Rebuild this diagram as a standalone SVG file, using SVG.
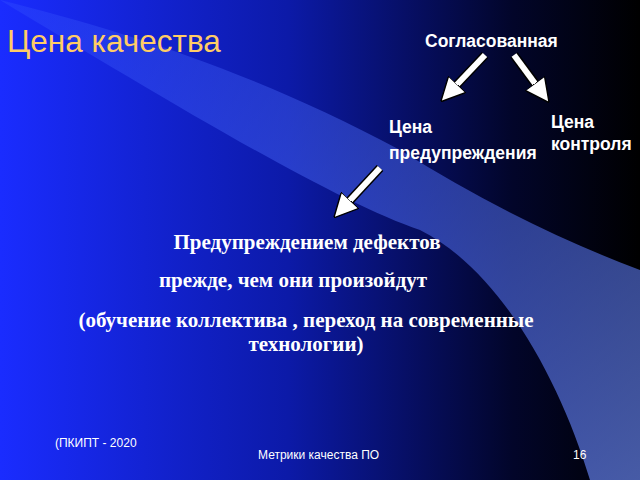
<svg xmlns="http://www.w3.org/2000/svg" width="640" height="480" viewBox="0 0 640 480">
<defs>
<linearGradient id="bg" x1="0" y1="0" x2="1" y2="0">
<stop offset="0" stop-color="#1a2cff"/><stop offset="0.45" stop-color="#0c1aa8"/><stop offset="0.8" stop-color="#02052a"/><stop offset="1" stop-color="#000"/>
</linearGradient>
<linearGradient id="sw" x1="0" y1="0" x2="1" y2="1">
<stop offset="0" stop-color="#3a5cff" stop-opacity="0.4"/><stop offset="1" stop-color="#6d8cff"/>
</linearGradient>
<marker id="ah" viewBox="0 0 10 10" refX="5" refY="5" markerWidth="4" markerHeight="4" orient="auto"><path d="M0,0 L10,5 L0,10 Z" fill="#fff" stroke="#000" stroke-width="0.6"/></marker>
<style>
.t{font-family:"Liberation Sans",Arial,sans-serif;font-weight:bold;fill:#fff;font-size:17.5px}
.s{font-family:"Liberation Serif","Times New Roman",serif;font-weight:bold;fill:#fff;font-size:21px;text-anchor:middle}
.f{font-family:"Liberation Sans",Arial,sans-serif;fill:#fff;font-size:12px}
.a{stroke:#000;stroke-width:9;fill:none}
.b{stroke:#fff;stroke-width:6;fill:none}
</style>
</defs>
<rect width="640" height="480" fill="url(#bg)"/>
<path d="M0,0 C150,90 330,200 420,230 C500,270 560,380 590,480 L640,480 L640,270 C560,240 480,200 400,150 C250,70 120,30 0,0 Z" fill="url(#sw)" opacity="0.65"/>
<text x="7" y="52" font-family="Liberation Sans,Arial,sans-serif" font-size="31.5" fill="#ffcc66">Цена качества</text>
<g id="n1"><text class="t" x="425" y="47">Согласованная</text></g>
<g id="n2"><text class="t" x="389" y="133">Цена</text><text class="t" x="389" y="159">предупреждения</text></g>
<g id="n3"><text class="t" x="551" y="128">Цена</text><text class="t" x="551" y="150">контроля</text></g>
<g id="connectors">
<path class="a" d="M485,55 L449,93"/><path class="b" d="M485,55 L449,93" marker-end="url(#ah)"/>
<path class="a" d="M514,55 L542,93"/><path class="b" d="M514,55 L542,93" marker-end="url(#ah)"/>
<path class="a" d="M380,168 L342,209"/><path class="b" d="M380,168 L342,209" marker-end="url(#ah)"/>
</g>
<g id="body">
<text class="s" x="307" y="249">Предупреждением дефектов</text>
<text class="s" x="293" y="287">прежде, чем они произойдут</text>
<text class="s" x="306" y="327">(обучение коллектива , переход на современные</text>
<text class="s" x="306" y="351">технологии)</text>
</g>
<text class="f" x="55" y="447">(ПКИПТ - 2020</text>
<text class="f" x="258" y="459">Метрики  качества ПО</text>
<text class="f" x="573" y="459">16</text>
</svg>
